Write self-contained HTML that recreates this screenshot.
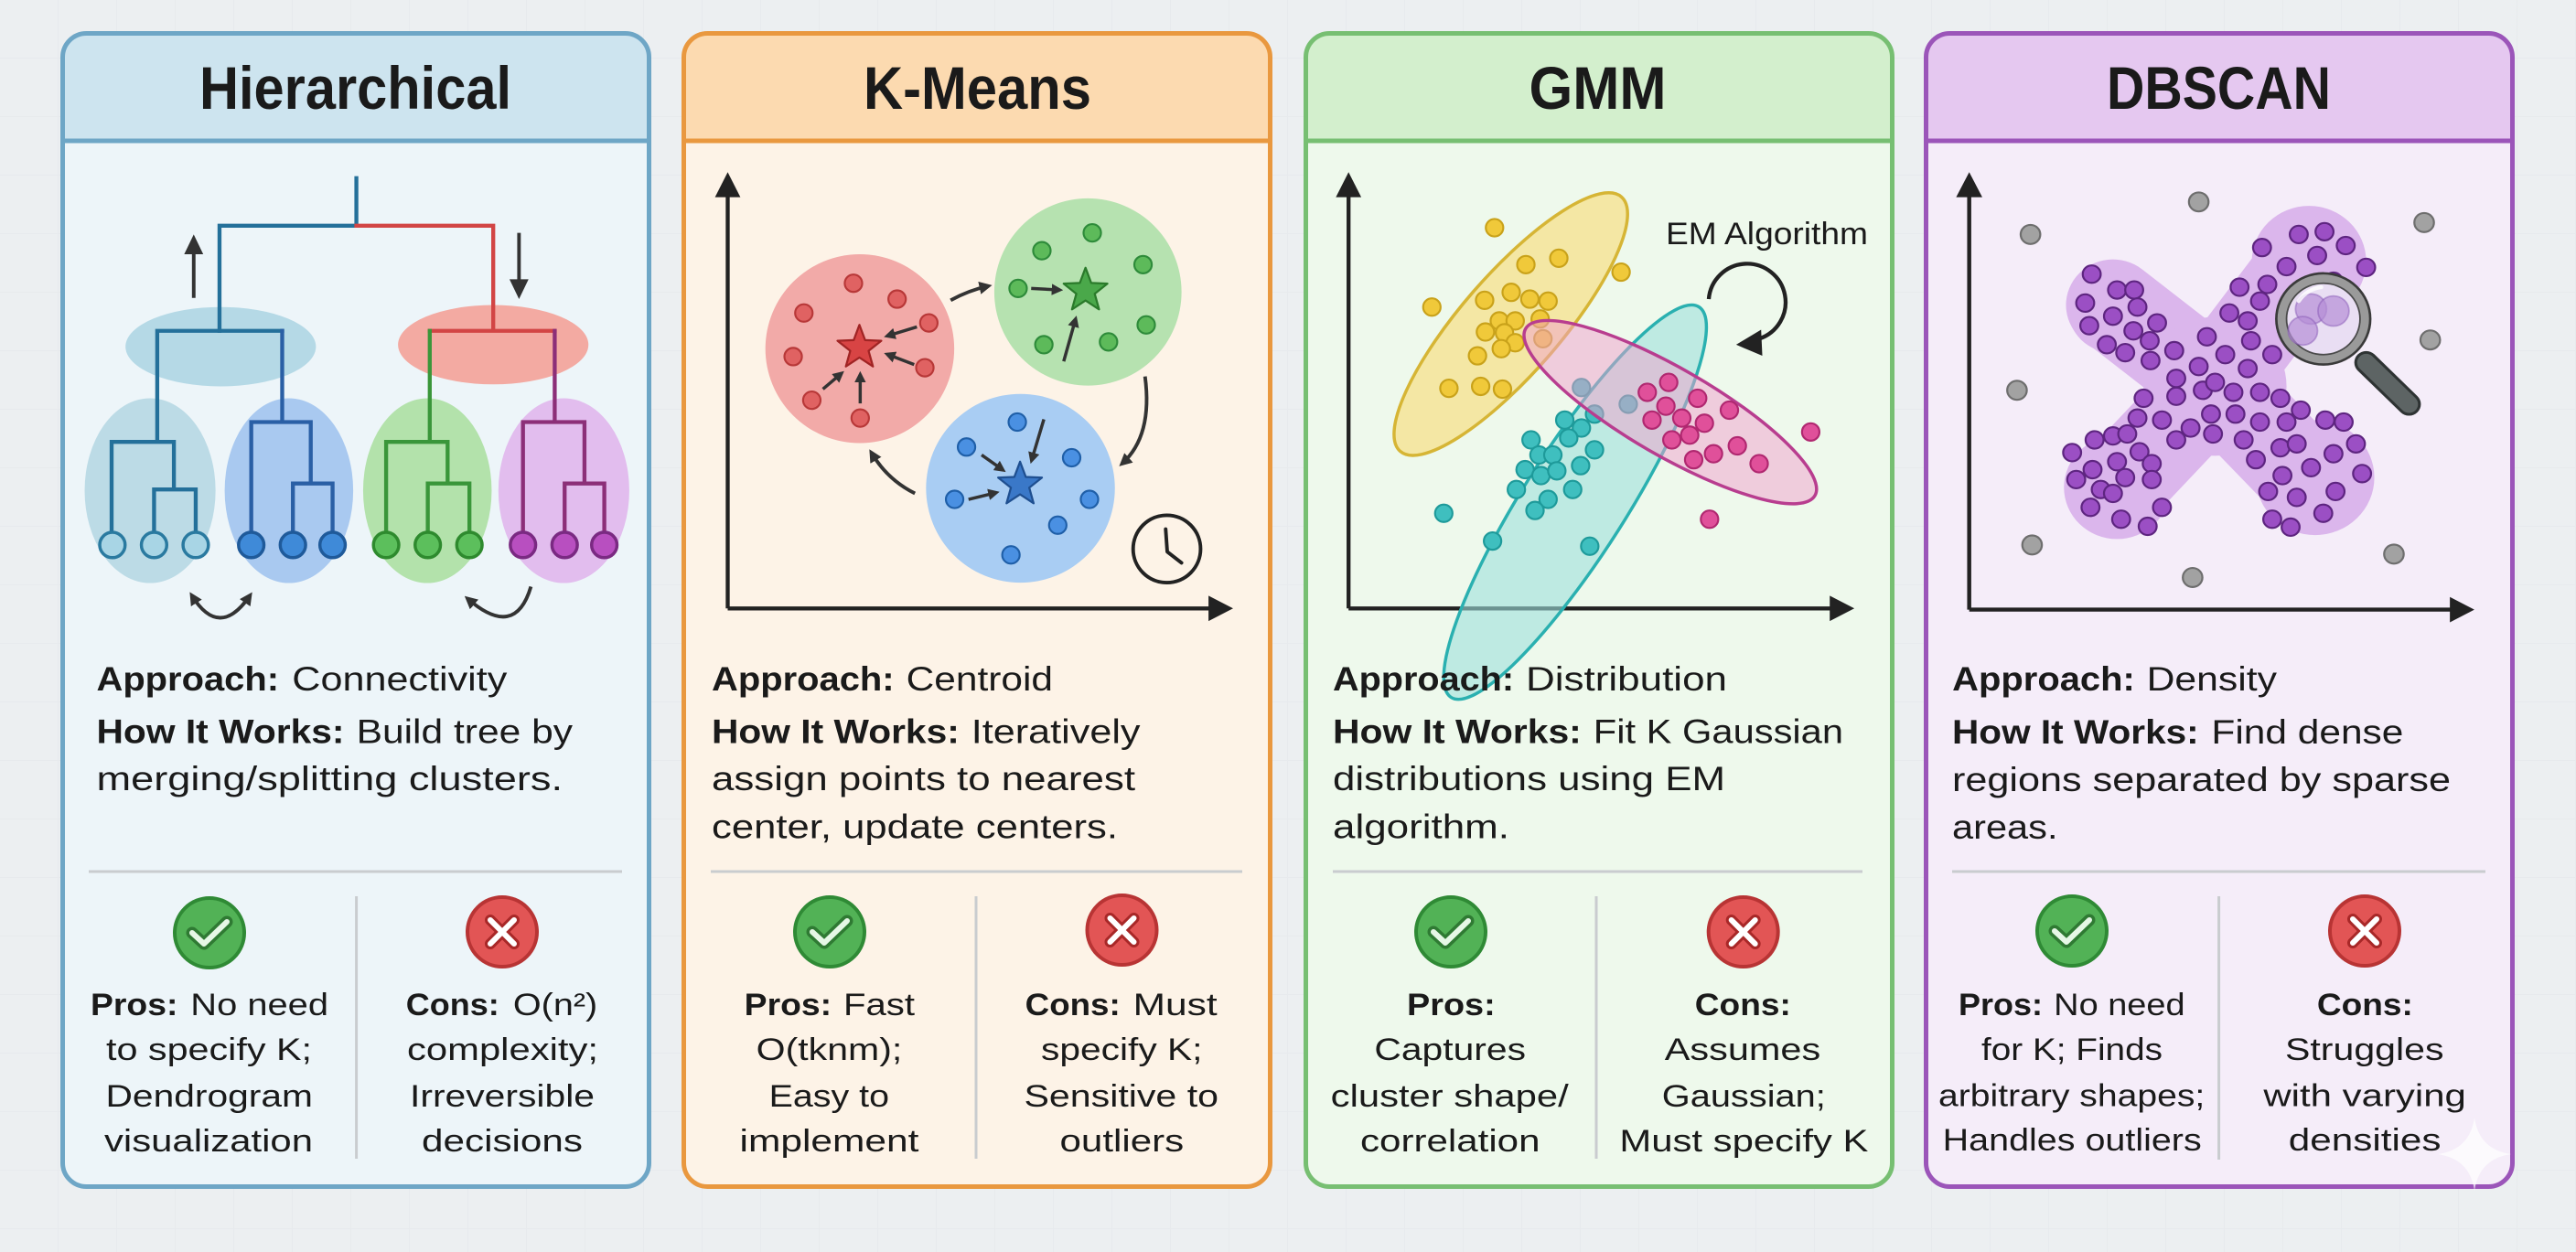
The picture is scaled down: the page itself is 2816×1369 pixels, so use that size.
<!DOCTYPE html>
<html><head><meta charset="utf-8">
<style>
html,body{margin:0;padding:0;background:#eceff1;}
body{width:2816px;height:1369px;overflow:hidden;}
svg{display:block;}
text{font-family:"Liberation Sans",Arial,sans-serif;fill:#1a1a1a;}
.b{font-weight:bold;}
.t{font-size:37px;}
.p{font-size:34px;}
.h{font-size:66px;font-weight:bold;}
</style></head><body>
<svg width="2816" height="1369" viewBox="0 0 2816 1369" xmlns="http://www.w3.org/2000/svg">
<defs>
<pattern id="grid" width="64" height="64" patternUnits="userSpaceOnUse"><path d="M64,0 V64 M0,64 H64" stroke="#e3e7ea" stroke-width="2" fill="none"/></pattern>
<marker id="ah" viewBox="0 0 10 10" refX="7" refY="5" markerWidth="3.6" markerHeight="3.6" orient="auto-start-reverse"><path d="M0,0 L10,5 L0,10 z" fill="#333"/></marker>
<clipPath id="c1"><rect x="68.5" y="36.5" width="641" height="1261" rx="26"/></clipPath>
<clipPath id="c2"><rect x="747.5" y="36.5" width="641" height="1261" rx="26"/></clipPath>
<clipPath id="c3"><rect x="1427.5" y="36.5" width="641" height="1261" rx="26"/></clipPath>
<clipPath id="c4"><rect x="2105.5" y="36.5" width="641" height="1261" rx="26"/></clipPath>
</defs>
<rect x="0" y="0" width="2816" height="1369" fill="#eceff1"/>
<rect x="0" y="0" width="2816" height="1369" fill="url(#grid)" opacity="0.6"/>

<!-- PANEL FRAMES -->
<rect x="68.5" y="36.5" width="641" height="1261" rx="26" fill="#edf5f9"/>
<rect x="68.5" y="36.5" width="641" height="118" fill="#cde4ef" clip-path="url(#c1)"/>
<rect x="68.5" y="36.5" width="641" height="1261" rx="26" fill="none" stroke="#6ea6c6" stroke-width="5"/>
<line x1="68.5" y1="154" x2="709.5" y2="154" stroke="#6ea6c6" stroke-width="5"/>

<rect x="747.5" y="36.5" width="641" height="1261" rx="26" fill="#fdf3e7"/>
<rect x="747.5" y="36.5" width="641" height="118" fill="#fcdab0" clip-path="url(#c2)"/>
<rect x="747.5" y="36.5" width="641" height="1261" rx="26" fill="none" stroke="#e9983f" stroke-width="5"/>
<line x1="747.5" y1="154" x2="1388.5" y2="154" stroke="#e9983f" stroke-width="5"/>

<rect x="1427.5" y="36.5" width="641" height="1261" rx="26" fill="#eef9ec"/>
<rect x="1427.5" y="36.5" width="641" height="118" fill="#d3efcd" clip-path="url(#c3)"/>
<rect x="1427.5" y="36.5" width="641" height="1261" rx="26" fill="none" stroke="#77bf72" stroke-width="5"/>
<line x1="1427.5" y1="154" x2="2068.5" y2="154" stroke="#77bf72" stroke-width="5"/>

<rect x="2105.5" y="36.5" width="641" height="1261" rx="26" fill="#f5edf9"/>
<rect x="2105.5" y="36.5" width="641" height="118" fill="#e5c8f0" clip-path="url(#c4)"/>
<rect x="2105.5" y="36.5" width="641" height="1261" rx="26" fill="none" stroke="#9b55b9" stroke-width="5"/>
<line x1="2105.5" y1="154" x2="2746.5" y2="154" stroke="#9b55b9" stroke-width="5"/>

<!-- TITLES -->
<text class="h" x="218" y="119" textLength="341" lengthAdjust="spacingAndGlyphs">Hierarchical</text>
<text class="h" x="944" y="119" textLength="249" lengthAdjust="spacingAndGlyphs">K-Means</text>
<text class="h" x="1671.5" y="119" textLength="150" lengthAdjust="spacingAndGlyphs">GMM</text>
<text class="h" x="2303" y="119" textLength="245" lengthAdjust="spacingAndGlyphs">DBSCAN</text>

<!-- PANEL 1 DIAGRAM -->
<g transform="translate(60,30) scale(0.43365)">
  <ellipse cx="418" cy="805" rx="240" ry="100" fill="#b5d9e6"/>
  <ellipse cx="1105" cy="800" rx="240" ry="100" fill="#f3aaa2"/>
  <ellipse cx="240" cy="1168" rx="165" ry="233" fill="#bcdbe6"/>
  <ellipse cx="590" cy="1168" rx="162" ry="233" fill="#a9c9f0"/>
  <ellipse cx="939" cy="1168" rx="162" ry="233" fill="#b3e2ab"/>
  <ellipse cx="1283" cy="1168" rx="165" ry="233" fill="#e2bdee"/>
  <g fill="none" stroke-width="10" stroke-linecap="square">
    <path d="M760,380 V500 M760,500 H415 V765" stroke="#24709a"/>
    <path d="M760,500 H1105 V765 M945,765 H1260" stroke="#d24545"/>
    <path d="M258,765 H573 M258,765 V1045 M143,1045 H300 M143,1045 V1272 M300,1045 V1165 M250,1165 H355 M250,1165 V1272 M355,1165 V1272" stroke="#24709a"/>
    <path d="M573,765 V995 M495,995 H645 M495,995 V1272 M645,995 V1150 M600,1150 H700 M600,1150 V1272 M700,1150 V1272" stroke="#2a5fa5"/>
    <path d="M945,765 V1045 M835,1045 H990 M835,1045 V1272 M990,1045 V1150 M940,1150 H1045 M940,1150 V1272 M1045,1150 V1272" stroke="#3a963a"/>
    <path d="M1260,765 V995 M1180,995 H1335 M1180,995 V1272 M1335,995 V1150 M1285,1150 H1385 M1285,1150 V1272 M1385,1150 V1272" stroke="#8c2f78"/>
  </g>
  <g stroke-width="8">
    <circle cx="145" cy="1305" r="32" fill="#a8d5e5" stroke="#2a7aa0"/>
    <circle cx="250" cy="1305" r="32" fill="#a8d5e5" stroke="#2a7aa0"/>
    <circle cx="355" cy="1305" r="32" fill="#a8d5e5" stroke="#2a7aa0"/>
    <circle cx="495" cy="1305" r="32" fill="#3f8ad8" stroke="#1f5a9a"/>
    <circle cx="600" cy="1305" r="32" fill="#3f8ad8" stroke="#1f5a9a"/>
    <circle cx="700" cy="1305" r="32" fill="#3f8ad8" stroke="#1f5a9a"/>
    <circle cx="835" cy="1305" r="32" fill="#5cbf5c" stroke="#2e8a2e"/>
    <circle cx="940" cy="1305" r="32" fill="#5cbf5c" stroke="#2e8a2e"/>
    <circle cx="1045" cy="1305" r="32" fill="#5cbf5c" stroke="#2e8a2e"/>
    <circle cx="1180" cy="1305" r="32" fill="#b84fc0" stroke="#7a2a82"/>
    <circle cx="1285" cy="1305" r="32" fill="#b84fc0" stroke="#7a2a82"/>
    <circle cx="1385" cy="1305" r="32" fill="#b84fc0" stroke="#7a2a82"/>
  </g>
  <path d="M350,682 V565" stroke="#333" stroke-width="9"/>
  <polygon points="350,522 326,572 374,572" fill="#333"/>
  <path d="M1170,518 V640" stroke="#333" stroke-width="9"/>
  <polygon points="1170,685 1146,635 1194,635" fill="#333"/>
  <path d="M345,1432 Q415,1545 492,1432" fill="none" stroke="#333" stroke-width="9" marker-start="url(#ah)" marker-end="url(#ah)"/>
  <path d="M1200,1410 Q1160,1545 1040,1440" fill="none" stroke="#333" stroke-width="9" marker-end="url(#ah)"/>
</g>

<!-- PANEL 2 DIAGRAM -->
<g transform="translate(740,30) scale(0.43365)">
  <circle cx="461" cy="810" r="238" fill="#f2aaa8"/>
  <circle cx="1036" cy="667" r="236" fill="#b6e2b0"/>
  <circle cx="866" cy="1162" r="238" fill="#a9cdf3"/>
  <path d="M128,1465 V415 M128,1465 H1350" stroke="#222" stroke-width="10" fill="none"/>
  <polygon points="128,365 96,428 160,428" fill="#222"/>
  <polygon points="1402,1465 1340,1433 1340,1497" fill="#222"/>
  <g stroke-width="5" fill="#e06262" stroke="#b83838">
    <circle cx="445" cy="645" r="22"/><circle cx="555" cy="685" r="22"/><circle cx="320" cy="720" r="22"/><circle cx="635" cy="745" r="22"/>
    <circle cx="293" cy="830" r="22"/><circle cx="625" cy="858" r="22"/><circle cx="340" cy="940" r="22"/><circle cx="462" cy="985" r="22"/>
  </g>
  <g stroke-width="5" fill="#5dba5a" stroke="#2e8b3a">
    <circle cx="1047" cy="518" r="22"/><circle cx="920" cy="563" r="22"/><circle cx="1175" cy="598" r="22"/><circle cx="860" cy="658" r="22"/>
    <circle cx="1183" cy="750" r="22"/><circle cx="925" cy="800" r="22"/><circle cx="1088" cy="793" r="22"/>
  </g>
  <g stroke-width="5" fill="#4a90e2" stroke="#1f5fa8">
    <circle cx="858" cy="995" r="22"/><circle cx="730" cy="1058" r="22"/><circle cx="995" cy="1085" r="22"/><circle cx="700" cy="1190" r="22"/>
    <circle cx="1040" cy="1190" r="22"/><circle cx="960" cy="1255" r="22"/><circle cx="842" cy="1330" r="22"/>
  </g>
  <polygon points="0,-1 0.247,-0.34 0.951,-0.309 0.399,0.13 0.588,0.809 0,0.42 -0.588,0.809 -0.399,0.13 -0.951,-0.309 -0.247,-0.34" transform="translate(460,808) scale(58)" fill="#d84444" stroke="#a02424" stroke-width="0.09" stroke-linejoin="round"/>
  <polygon points="0,-1 0.247,-0.34 0.951,-0.309 0.399,0.13 0.588,0.809 0,0.42 -0.588,0.809 -0.399,0.13 -0.951,-0.309 -0.247,-0.34" transform="translate(1030,664) scale(58)" fill="#4aa84a" stroke="#2a7a2a" stroke-width="0.09" stroke-linejoin="round"/>
  <polygon points="0,-1 0.247,-0.34 0.951,-0.309 0.399,0.13 0.588,0.809 0,0.42 -0.588,0.809 -0.399,0.13 -0.951,-0.309 -0.247,-0.34" transform="translate(865,1153) scale(58)" fill="#3a78c8" stroke="#1f4f90" stroke-width="0.09" stroke-linejoin="round"/>
  <g stroke="#333" stroke-width="8" fill="none" marker-end="url(#ah)">
    <path d="M605,755 L530,778"/><path d="M598,850 L530,824"/><path d="M368,912 L415,872"/><path d="M462,948 L462,875"/>
    <path d="M893,658 L965,662"/><path d="M975,842 L1005,735"/>
    <path d="M768,1078 L822,1116"/><path d="M925,988 L894,1092"/><path d="M735,1190 L805,1173"/>
  </g>
  <g stroke="#333" stroke-width="9" fill="none" marker-end="url(#ah)">
    <path d="M690,688 Q735,663 785,652"/>
    <path d="M1180,880 Q1200,1030 1122,1100"/>
    <path d="M600,1175 Q530,1140 490,1072"/>
  </g>
  <circle cx="1235" cy="1315" r="85" fill="none" stroke="#222" stroke-width="9"/>
  <path d="M1232,1265 L1236,1322 L1272,1350" fill="none" stroke="#222" stroke-width="9" stroke-linecap="round" stroke-linejoin="round"/>
</g>

<!-- PANEL 3 DIAGRAM -->
<g transform="translate(1420,30) scale(0.43365)">
  <path d="M125,1465 V415 M125,1465 H1345" stroke="#222" stroke-width="10" fill="none"/>
  <polygon points="125,365 93,428 157,428" fill="#222"/>
  <polygon points="1400,1465 1338,1433 1338,1497" fill="#222"/>
  <ellipse cx="534" cy="748" rx="425" ry="125" transform="rotate(-49 534 748)" fill="#f5e08c" fill-opacity="0.75" stroke="#d6b535" stroke-width="8"/>
  <ellipse cx="696" cy="1197" rx="583" ry="130" transform="rotate(-57.6 696 1197)" fill="#9fe0dc" fill-opacity="0.6" stroke="#2ab0b0" stroke-width="8"/>
  <g stroke-width="5" fill="#f0c93a" stroke="#c9a21a">
    <circle cx="493" cy="505" r="22"/><circle cx="572" cy="598" r="22"/><circle cx="655" cy="582" r="22"/><circle cx="812" cy="617" r="22"/>
    <circle cx="335" cy="705" r="22"/><circle cx="468" cy="688" r="22"/><circle cx="535" cy="668" r="22"/><circle cx="582" cy="685" r="22"/>
    <circle cx="628" cy="690" r="22"/><circle cx="505" cy="740" r="22"/><circle cx="545" cy="740" r="22"/><circle cx="608" cy="735" r="22"/>
    <circle cx="470" cy="768" r="22"/><circle cx="518" cy="770" r="22"/><circle cx="545" cy="795" r="22"/><circle cx="615" cy="785" r="22"/>
    <circle cx="450" cy="828" r="22"/><circle cx="510" cy="810" r="22"/><circle cx="378" cy="910" r="22"/><circle cx="458" cy="905" r="22"/><circle cx="513" cy="912" r="22"/>
  </g>
  <g stroke-width="5" fill="#3fbfbf" stroke="#1e9a9a">
    <circle cx="712" cy="908" r="22"/><circle cx="745" cy="975" r="22"/><circle cx="830" cy="950" r="22"/><circle cx="670" cy="990" r="22"/>
    <circle cx="712" cy="1010" r="22"/><circle cx="585" cy="1040" r="22"/><circle cx="680" cy="1035" r="22"/><circle cx="745" cy="1065" r="22"/>
    <circle cx="605" cy="1078" r="22"/><circle cx="640" cy="1078" r="22"/><circle cx="570" cy="1115" r="22"/><circle cx="610" cy="1130" r="22"/>
    <circle cx="650" cy="1118" r="22"/><circle cx="710" cy="1105" r="22"/><circle cx="548" cy="1165" r="22"/><circle cx="690" cy="1165" r="22"/>
    <circle cx="628" cy="1190" r="22"/><circle cx="595" cy="1218" r="22"/><circle cx="365" cy="1225" r="22"/><circle cx="488" cy="1295" r="22"/><circle cx="733" cy="1308" r="22"/>
  </g>
  <ellipse cx="936" cy="970" rx="421" ry="110" transform="rotate(30 936 970)" fill="#f0a0cc" fill-opacity="0.5" stroke="#b83d8f" stroke-width="8"/>
  <g stroke-width="5" fill="#e0509a" stroke="#b02870">
    <circle cx="878" cy="920" r="22"/><circle cx="932" cy="895" r="22"/><circle cx="1005" cy="935" r="22"/><circle cx="925" cy="955" r="22"/>
    <circle cx="890" cy="990" r="22"/><circle cx="965" cy="985" r="22"/><circle cx="1022" cy="998" r="22"/><circle cx="1085" cy="965" r="22"/>
    <circle cx="940" cy="1040" r="22"/><circle cx="985" cy="1028" r="22"/><circle cx="1045" cy="1075" r="22"/><circle cx="1105" cy="1055" r="22"/>
    <circle cx="995" cy="1090" r="22"/><circle cx="1160" cy="1100" r="22"/><circle cx="1290" cy="1020" r="22"/><circle cx="1035" cy="1240" r="22"/>
  </g>
  <path d="M1033,685 A97,97 0 1 1 1160,785" fill="none" stroke="#222" stroke-width="10"/>
  <polygon points="1102,800 1165,762 1168,828" fill="#222"/>
</g>
<text x="1821" y="267" style="font-size:34px" textLength="221" lengthAdjust="spacingAndGlyphs">EM Algorithm</text>

<!-- PANEL 4 DIAGRAM -->
<g transform="translate(2100,30) scale(0.44643,0.43365)">
  <path d="M118,1468 V415 M118,1468 H1300" stroke="#222" stroke-width="10" fill="none"/>
  <polygon points="118,365 86,428 150,428" fill="#222"/>
  <polygon points="1355,1468 1295,1436 1295,1500" fill="#222"/>
  <g fill="#dbb6ec">
    <path d="M470,700 L720,900 L955,1150 M490,1150 L720,900 L940,600" stroke="#dbb6ec" stroke-width="230" stroke-linecap="round" fill="none"/>
    <circle cx="950" cy="590" r="140"/><circle cx="470" cy="710" r="110"/><circle cx="480" cy="1160" r="130"/><circle cx="965" cy="1135" r="145"/><circle cx="720" cy="905" r="175"/>
  </g>
  <g stroke-width="5" fill="#9a5bbf" stroke="#7c7c7c">
    <circle cx="680" cy="440" r="24" fill="#a2a2a2" stroke="#6e6e6e"/><circle cx="268" cy="522" r="24" fill="#a2a2a2" stroke="#6e6e6e"/>
    <circle cx="1232" cy="492" r="24" fill="#a2a2a2" stroke="#6e6e6e"/><circle cx="235" cy="915" r="24" fill="#a2a2a2" stroke="#6e6e6e"/>
    <circle cx="1247" cy="788" r="24" fill="#a2a2a2" stroke="#6e6e6e"/><circle cx="272" cy="1305" r="24" fill="#a2a2a2" stroke="#6e6e6e"/>
    <circle cx="1158" cy="1328" r="24" fill="#a2a2a2" stroke="#6e6e6e"/><circle cx="665" cy="1387" r="24" fill="#a2a2a2" stroke="#6e6e6e"/>
  </g>
  <g stroke-width="5" fill="#9b4fc4" stroke="#5e2580">
    <circle cx="418" cy="622" r="22"/><circle cx="402" cy="695" r="22"/><circle cx="480" cy="662" r="22"/><circle cx="522" cy="662" r="22"/>
    <circle cx="470" cy="728" r="22"/><circle cx="530" cy="705" r="22"/><circle cx="412" cy="752" r="22"/><circle cx="520" cy="765" r="22"/>
    <circle cx="578" cy="745" r="22"/><circle cx="455" cy="800" r="22"/><circle cx="500" cy="820" r="22"/><circle cx="560" cy="790" r="22"/><circle cx="562" cy="840" r="22"/>
    <circle cx="620" cy="815" r="22"/><circle cx="700" cy="780" r="22"/><circle cx="680" cy="855" r="22"/><circle cx="625" cy="885" r="22"/>
    <circle cx="625" cy="930" r="22"/><circle cx="690" cy="915" r="22"/><circle cx="745" cy="825" r="22"/><circle cx="800" cy="860" r="22"/>
    <circle cx="765" cy="920" r="22"/><circle cx="830" cy="920" r="22"/><circle cx="720" cy="895" r="22"/><circle cx="545" cy="935" r="22"/>
    <circle cx="530" cy="985" r="22"/><circle cx="590" cy="990" r="22"/><circle cx="660" cy="1010" r="22"/><circle cx="710" cy="975" r="22"/>
    <circle cx="715" cy="1025" r="22"/><circle cx="625" cy="1040" r="22"/><circle cx="770" cy="975" r="22"/><circle cx="830" cy="995" r="22"/>
    <circle cx="880" cy="935" r="22"/><circle cx="930" cy="965" r="22"/><circle cx="895" cy="995" r="22"/><circle cx="790" cy="1040" r="22"/>
    <circle cx="755" cy="720" r="22"/><circle cx="800" cy="740" r="22"/><circle cx="808" cy="790" r="22"/><circle cx="860" cy="825" r="22"/>
    <circle cx="835" cy="555" r="22"/><circle cx="925" cy="522" r="22"/><circle cx="988" cy="515" r="22"/><circle cx="1040" cy="550" r="22"/>
    <circle cx="970" cy="575" r="22"/><circle cx="895" cy="603" r="22"/><circle cx="1090" cy="605" r="22"/><circle cx="780" cy="655" r="22"/>
    <circle cx="848" cy="648" r="22"/><circle cx="830" cy="690" r="22"/><circle cx="1010" cy="640" r="22"/>
    <circle cx="370" cy="1072" r="22"/><circle cx="425" cy="1040" r="22"/><circle cx="470" cy="1030" r="22"/><circle cx="505" cy="1025" r="22"/>
    <circle cx="535" cy="1070" r="22"/><circle cx="480" cy="1095" r="22"/><circle cx="420" cy="1115" r="22"/><circle cx="565" cy="1100" r="22"/>
    <circle cx="380" cy="1140" r="22"/><circle cx="440" cy="1165" r="22"/><circle cx="500" cy="1135" r="22"/><circle cx="565" cy="1140" r="22"/>
    <circle cx="470" cy="1175" r="22"/><circle cx="415" cy="1210" r="22"/><circle cx="490" cy="1240" r="22"/><circle cx="555" cy="1258" r="22"/><circle cx="590" cy="1210" r="22"/>
    <circle cx="820" cy="1090" r="22"/><circle cx="880" cy="1060" r="22"/><circle cx="920" cy="1050" r="22"/><circle cx="990" cy="990" r="22"/>
    <circle cx="1035" cy="995" r="22"/><circle cx="1065" cy="1050" r="22"/><circle cx="1010" cy="1075" r="22"/><circle cx="955" cy="1110" r="22"/>
    <circle cx="885" cy="1130" r="22"/><circle cx="1080" cy="1125" r="22"/><circle cx="850" cy="1170" r="22"/><circle cx="920" cy="1185" r="22"/>
    <circle cx="1015" cy="1170" r="22"/><circle cx="860" cy="1240" r="22"/><circle cx="905" cy="1260" r="22"/><circle cx="985" cy="1225" r="22"/>
  </g>
  <!-- magnifier -->
  <line x1="1090" y1="845" x2="1195" y2="950" stroke="#2e3333" stroke-width="58" stroke-linecap="round"/>
  <line x1="1090" y1="845" x2="1195" y2="950" stroke="#5d6464" stroke-width="44" stroke-linecap="round"/>
  <circle cx="985" cy="735" r="118" fill="#3a3a3a"/>
  <circle cx="985" cy="735" r="112" fill="#9a9a9a"/>
  <circle cx="985" cy="735" r="92" fill="#4a4a4a"/>
  <circle cx="985" cy="735" r="88" fill="#e9def3"/>
  <g fill="#b58ed6" fill-opacity="0.7" stroke="#8a5cb8" stroke-width="4" stroke-opacity="0.5">
    <circle cx="955" cy="710" r="38"/><circle cx="1010" cy="715" r="38"/><circle cx="935" cy="765" r="36"/>
  </g>
  <path d="M925,690 Q945,660 980,655" fill="none" stroke="#ffffff" stroke-width="10" stroke-linecap="round" opacity="0.8"/>
</g>

<!-- DIVIDERS -->
<g stroke="#c9cccf" stroke-width="3">
  <line x1="97" y1="953" x2="680" y2="953"/><line x1="389.6" y1="980" x2="389.6" y2="1267"/>
  <line x1="777" y1="953" x2="1358" y2="953"/><line x1="1067" y1="980" x2="1067" y2="1267"/>
  <line x1="1457" y1="953" x2="2036" y2="953"/><line x1="1745" y1="980" x2="1745" y2="1267"/>
  <line x1="2134" y1="953" x2="2717" y2="953"/><line x1="2425.6" y1="980" x2="2425.6" y2="1268"/>
</g>

<!-- ICONS -->
<g id="icons">
  <g transform="translate(229,1020)">
    <circle r="38" fill="#52b256" stroke="#2f8a35" stroke-width="4"/>
    <path d="M-19,0 L-6,12 L19,-12" fill="none" stroke="#2f7a33" stroke-width="13" stroke-linecap="round" stroke-linejoin="round"/>
    <path d="M-19,0 L-6,12 L19,-12" fill="none" stroke="#e6f7e6" stroke-width="6" stroke-linecap="round" stroke-linejoin="round"/>
  </g>
  <g transform="translate(549,1019)">
    <circle r="38" fill="#e25555" stroke="#b83434" stroke-width="4"/>
    <path d="M-13,-13 L13,13 M13,-13 L-13,13" fill="none" stroke="#a82828" stroke-width="12" stroke-linecap="round"/>
    <path d="M-13,-13 L13,13 M13,-13 L-13,13" fill="none" stroke="#ffffff" stroke-width="6" stroke-linecap="round"/>
  </g>
  <g transform="translate(907,1019)">
    <circle r="38" fill="#52b256" stroke="#2f8a35" stroke-width="4"/>
    <path d="M-19,0 L-6,12 L19,-12" fill="none" stroke="#2f7a33" stroke-width="13" stroke-linecap="round" stroke-linejoin="round"/>
    <path d="M-19,0 L-6,12 L19,-12" fill="none" stroke="#e6f7e6" stroke-width="6" stroke-linecap="round" stroke-linejoin="round"/>
  </g>
  <g transform="translate(1226.5,1017)">
    <circle r="38" fill="#e25555" stroke="#b83434" stroke-width="4"/>
    <path d="M-13,-13 L13,13 M13,-13 L-13,13" fill="none" stroke="#a82828" stroke-width="12" stroke-linecap="round"/>
    <path d="M-13,-13 L13,13 M13,-13 L-13,13" fill="none" stroke="#ffffff" stroke-width="6" stroke-linecap="round"/>
  </g>
  <g transform="translate(1586,1019)">
    <circle r="38" fill="#52b256" stroke="#2f8a35" stroke-width="4"/>
    <path d="M-19,0 L-6,12 L19,-12" fill="none" stroke="#2f7a33" stroke-width="13" stroke-linecap="round" stroke-linejoin="round"/>
    <path d="M-19,0 L-6,12 L19,-12" fill="none" stroke="#e6f7e6" stroke-width="6" stroke-linecap="round" stroke-linejoin="round"/>
  </g>
  <g transform="translate(1905.7,1019)">
    <circle r="38" fill="#e25555" stroke="#b83434" stroke-width="4"/>
    <path d="M-13,-13 L13,13 M13,-13 L-13,13" fill="none" stroke="#a82828" stroke-width="12" stroke-linecap="round"/>
    <path d="M-13,-13 L13,13 M13,-13 L-13,13" fill="none" stroke="#ffffff" stroke-width="6" stroke-linecap="round"/>
  </g>
  <g transform="translate(2265,1018)">
    <circle r="38" fill="#52b256" stroke="#2f8a35" stroke-width="4"/>
    <path d="M-19,0 L-6,12 L19,-12" fill="none" stroke="#2f7a33" stroke-width="13" stroke-linecap="round" stroke-linejoin="round"/>
    <path d="M-19,0 L-6,12 L19,-12" fill="none" stroke="#e6f7e6" stroke-width="6" stroke-linecap="round" stroke-linejoin="round"/>
  </g>
  <g transform="translate(2585,1018)">
    <circle r="38" fill="#e25555" stroke="#b83434" stroke-width="4"/>
    <path d="M-13,-13 L13,13 M13,-13 L-13,13" fill="none" stroke="#a82828" stroke-width="12" stroke-linecap="round"/>
    <path d="M-13,-13 L13,13 M13,-13 L-13,13" fill="none" stroke="#ffffff" stroke-width="6" stroke-linecap="round"/>
  </g>
</g>

<!-- PANEL 1 TEXT -->
<text class="t b" x="105.5" y="755" textLength="199.5" lengthAdjust="spacingAndGlyphs">Approach:</text>
<text class="t" x="319.3" y="755" textLength="235" lengthAdjust="spacingAndGlyphs">Connectivity</text>
<text class="t b" x="105.5" y="812.5" textLength="271" lengthAdjust="spacingAndGlyphs">How It Works:</text>
<text class="t" x="389.6" y="812.5" textLength="236.4" lengthAdjust="spacingAndGlyphs">Build tree by</text>
<text class="t" x="105.5" y="864" textLength="509.5" lengthAdjust="spacingAndGlyphs">merging/splitting clusters.</text>
<text class="p b" x="99" y="1110" textLength="95.4" lengthAdjust="spacingAndGlyphs">Pros:</text>
<text class="p" x="208.3" y="1110" textLength="150.7" lengthAdjust="spacingAndGlyphs">No need</text>
<text class="p" x="116" y="1159" textLength="225" lengthAdjust="spacingAndGlyphs">to specify K;</text>
<text class="p" x="115.5" y="1210" textLength="226.5" lengthAdjust="spacingAndGlyphs">Dendrogram</text>
<text class="p" x="114" y="1259" textLength="228" lengthAdjust="spacingAndGlyphs">visualization</text>
<text class="p b" x="443.8" y="1110" textLength="102" lengthAdjust="spacingAndGlyphs">Cons:</text>
<text class="p" x="560.9" y="1110" textLength="92.3" lengthAdjust="spacingAndGlyphs">O(n²)</text>
<text class="p" x="445" y="1159" textLength="209" lengthAdjust="spacingAndGlyphs">complexity;</text>
<text class="p" x="448" y="1210" textLength="202" lengthAdjust="spacingAndGlyphs">Irreversible</text>
<text class="p" x="461" y="1259" textLength="176" lengthAdjust="spacingAndGlyphs">decisions</text>

<!-- PANEL 2 TEXT -->
<text class="t b" x="778" y="755" textLength="199.6" lengthAdjust="spacingAndGlyphs">Approach:</text>
<text class="t" x="990.7" y="755" textLength="160.3" lengthAdjust="spacingAndGlyphs">Centroid</text>
<text class="t b" x="778" y="812.5" textLength="270.8" lengthAdjust="spacingAndGlyphs">How It Works:</text>
<text class="t" x="1061.8" y="812.5" textLength="184.7" lengthAdjust="spacingAndGlyphs">Iteratively</text>
<text class="t" x="778" y="864" textLength="463" lengthAdjust="spacingAndGlyphs">assign points to nearest</text>
<text class="t" x="778" y="916.5" textLength="444" lengthAdjust="spacingAndGlyphs">center, update centers.</text>
<text class="p b" x="813.7" y="1110" textLength="95.4" lengthAdjust="spacingAndGlyphs">Pros:</text>
<text class="p" x="922" y="1110" textLength="78" lengthAdjust="spacingAndGlyphs">Fast</text>
<text class="p" x="826.7" y="1159" textLength="159.6" lengthAdjust="spacingAndGlyphs">O(tknm);</text>
<text class="p" x="840.6" y="1210" textLength="131.4" lengthAdjust="spacingAndGlyphs">Easy to</text>
<text class="p" x="808.5" y="1259" textLength="196" lengthAdjust="spacingAndGlyphs">implement</text>
<text class="p b" x="1120.7" y="1110" textLength="104" lengthAdjust="spacingAndGlyphs">Cons:</text>
<text class="p" x="1238.7" y="1110" textLength="92" lengthAdjust="spacingAndGlyphs">Must</text>
<text class="p" x="1138" y="1159" textLength="176.5" lengthAdjust="spacingAndGlyphs">specify K;</text>
<text class="p" x="1119.5" y="1210" textLength="212.5" lengthAdjust="spacingAndGlyphs">Sensitive to</text>
<text class="p" x="1158.5" y="1259" textLength="135.7" lengthAdjust="spacingAndGlyphs">outliers</text>

<!-- PANEL 3 TEXT -->
<text class="t b" x="1457" y="755" textLength="198" lengthAdjust="spacingAndGlyphs">Approach:</text>
<text class="t" x="1668" y="755" textLength="220" lengthAdjust="spacingAndGlyphs">Distribution</text>
<text class="t b" x="1457" y="812.5" textLength="271.8" lengthAdjust="spacingAndGlyphs">How It Works:</text>
<text class="t" x="1741.8" y="812.5" textLength="273.2" lengthAdjust="spacingAndGlyphs">Fit K Gaussian</text>
<text class="t" x="1457" y="864" textLength="429" lengthAdjust="spacingAndGlyphs">distributions using EM</text>
<text class="t" x="1457" y="916.5" textLength="193" lengthAdjust="spacingAndGlyphs">algorithm.</text>
<text class="p b" x="1538" y="1110" textLength="96.7" lengthAdjust="spacingAndGlyphs">Pros:</text>
<text class="p" x="1502.4" y="1159" textLength="165.6" lengthAdjust="spacingAndGlyphs">Captures</text>
<text class="p" x="1454.7" y="1210" textLength="260" lengthAdjust="spacingAndGlyphs">cluster shape/</text>
<text class="p" x="1487" y="1259" textLength="196.5" lengthAdjust="spacingAndGlyphs">correlation</text>
<text class="p b" x="1852.8" y="1110" textLength="105" lengthAdjust="spacingAndGlyphs">Cons:</text>
<text class="p" x="1819.8" y="1159" textLength="170.4" lengthAdjust="spacingAndGlyphs">Assumes</text>
<text class="p" x="1816.8" y="1210" textLength="179" lengthAdjust="spacingAndGlyphs">Gaussian;</text>
<text class="p" x="1770.4" y="1259" textLength="272" lengthAdjust="spacingAndGlyphs">Must specify K</text>

<!-- PANEL 4 TEXT -->
<text class="t b" x="2134.2" y="755" textLength="199.6" lengthAdjust="spacingAndGlyphs">Approach:</text>
<text class="t" x="2346.6" y="755" textLength="142.4" lengthAdjust="spacingAndGlyphs">Density</text>
<text class="t b" x="2134" y="813" textLength="269.7" lengthAdjust="spacingAndGlyphs">How It Works:</text>
<text class="t" x="2417.4" y="813" textLength="210" lengthAdjust="spacingAndGlyphs">Find dense</text>
<text class="t" x="2134" y="865" textLength="545" lengthAdjust="spacingAndGlyphs">regions separated by sparse</text>
<text class="t" x="2134" y="917" textLength="115.5" lengthAdjust="spacingAndGlyphs">areas.</text>
<text class="p b" x="2141" y="1110" textLength="92" lengthAdjust="spacingAndGlyphs">Pros:</text>
<text class="p" x="2245.2" y="1110" textLength="143.4" lengthAdjust="spacingAndGlyphs">No need</text>
<text class="p" x="2166" y="1159" textLength="198" lengthAdjust="spacingAndGlyphs">for K; Finds</text>
<text class="p" x="2119" y="1209.5" textLength="291.3" lengthAdjust="spacingAndGlyphs">arbitrary shapes;</text>
<text class="p" x="2123.7" y="1258" textLength="283" lengthAdjust="spacingAndGlyphs">Handles outliers</text>
<text class="p b" x="2532.9" y="1110" textLength="105" lengthAdjust="spacingAndGlyphs">Cons:</text>
<text class="p" x="2498" y="1159" textLength="173.5" lengthAdjust="spacingAndGlyphs">Struggles</text>
<text class="p" x="2474.4" y="1209.5" textLength="221.5" lengthAdjust="spacingAndGlyphs">with varying</text>
<text class="p" x="2501.8" y="1258" textLength="166.7" lengthAdjust="spacingAndGlyphs">densities</text>

<!-- sparkle -->
<path d="M2705,1222 Q2710,1257 2745,1262 Q2710,1267 2705,1302 Q2700,1267 2665,1262 Q2700,1257 2705,1222 Z" fill="#ffffff" opacity="0.7"/>
</svg>
</body></html>
